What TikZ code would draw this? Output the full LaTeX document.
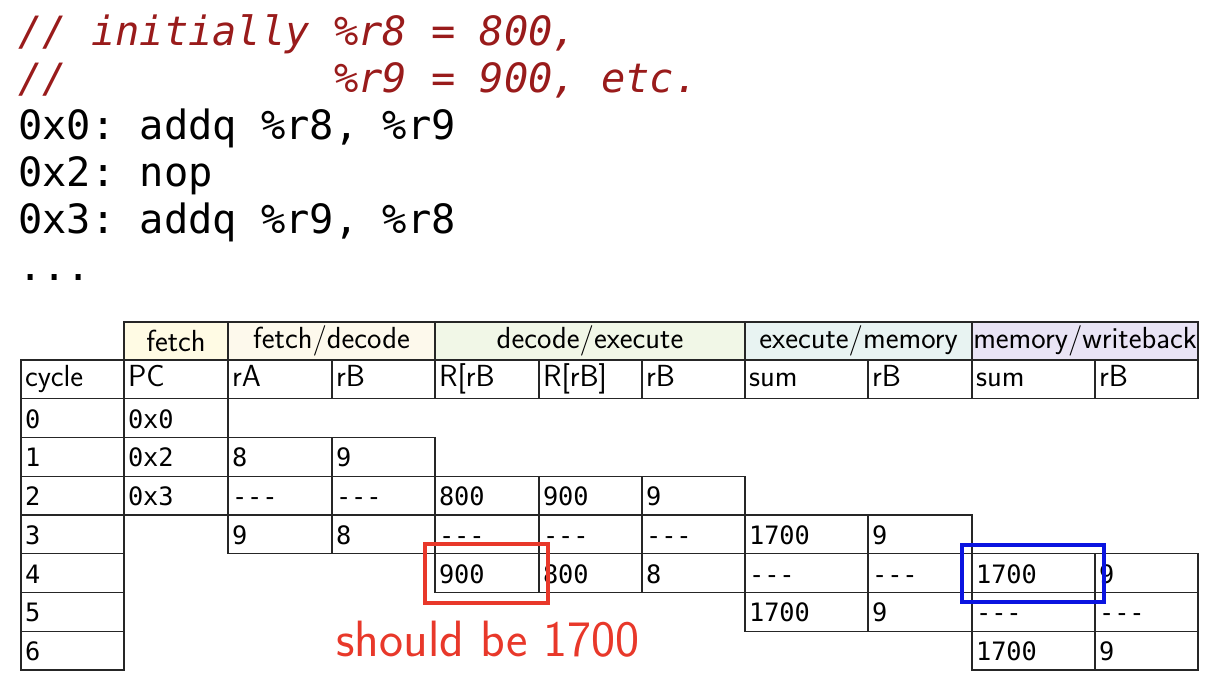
\documentclass[tikz,border=0pt]{standalone}
\usepackage{fontspec}
\setmonofont{DejaVu Sans Mono}
\usepackage{tikz}
\usetikzlibrary{positioning}
\definecolor{cmtred}{HTML}{991B1B}
\definecolor{hlred}{HTML}{E8382A}
\definecolor{hlblue}{HTML}{0A14E0}
\definecolor{fetchbg}{HTML}{FFFBE4}
\definecolor{fdbg}{HTML}{FDF9EC}
\definecolor{debg}{HTML}{F1F7E7}
\definecolor{embg}{HTML}{E8F3F2}
\definecolor{mwbg}{HTML}{E9E4F5}
\tikzstyle{codeline} = [anchor=base west, inner sep=0pt, font=\ttfamily\fontsize{28.7}{34}\selectfont]
\tikzstyle{comment} = [codeline, text=cmtred, font=\ttfamily\itshape\fontsize{28.7}{34}\selectfont]
\tikzstyle{stage} = [draw=black!85, line width=1pt, anchor=north west, inner sep=0pt, outer sep=0pt, minimum height=0.95cm, font=\sffamily\fontsize{21.7}{26}\selectfont]
\tikzstyle{cell} = [draw=black!85, line width=1pt, anchor=north west, inner xsep=0.1cm, inner ysep=0pt, outer sep=0pt, minimum height=0.96875cm, align=left]
\tikzstyle{hdcell} = [cell, text height=0.45cm, text depth=0.07cm, font=\sffamily\fontsize{21.7}{26}\selectfont]
\tikzstyle{valcell} = [cell, text height=0.5cm, text depth=0cm, font=\ttfamily\fontsize{18}{21}\selectfont]
\tikzstyle{hlbox} = [line width=2.2pt]
% column edges, in pixels
\def\colx{{21,124,228,332,435,539,642,745,868,972,1095,1198}}
\newcommand{\tabcell}[4]{%
  \pgfmathtruncatemacro{\nextc}{#2+1}%
  \pgfmathsetmacro{\cellx}{\colx[#2]}%
  \pgfmathsetmacro{\cellxx}{\colx[\nextc]}%
  \pgfmathsetmacro{\cellw}{(\cellxx-\cellx)*0.025-0.2}%
  \pgfmathsetmacro{\celly}{360+38.75*#1}%
  \node (cell-#1-#2) [#4, text width=\cellw cm] at (\cellx,\celly) {#3};}

\begin{document}
\begin{tikzpicture}[x=0.025cm, y=-0.025cm]
\useasboundingbox (0,0) rectangle (1220,686);
% code
\node (code1) [comment] at (18,45) {// initially \%r8 = 800,};
\node (code2) [comment] at (18,92) {// \phantom{initially} \%r9 = 900, etc.};
\node (code3) [codeline] at (18,139) {0x0: addq \%r8, \%r9};
\node (code4) [codeline] at (18,186) {0x2: nop};
\node (code5) [codeline] at (18,233) {0x3: addq \%r9, \%r8};
\node (code6) [codeline] at (18,280) {...};
% pipeline stages
\node (sfetch) [stage, fill=fetchbg, minimum width=2.6cm] at (124,322) {fetch};
\node (sfd) [stage, fill=fdbg, minimum width=5.175cm] at (228,322) {fetch/decode};
\node (sde) [stage, fill=debg, minimum width=7.75cm] at (435,322) {decode/execute};
\node (sem) [stage, fill=embg, minimum width=5.675cm] at (745,322) {execute/memory};
\node (smw) [stage, fill=mwbg, minimum width=5.65cm] at (972,322) {memory/writeback};
% table
\foreach \c/\t in {0/cycle, 1/PC, 2/rA, 3/rB, 4/{R[rB}, 5/{R[rB]}, 6/rB, 7/sum, 8/rB, 9/sum, 10/rB}
  \tabcell{0}{\c}{\t}{hdcell};
\foreach \c/\t in {0/0, 1/0x0}
  \tabcell{1}{\c}{\t}{valcell};
\foreach \c/\t in {0/1, 1/0x2, 2/8, 3/9}
  \tabcell{2}{\c}{\t}{valcell};
\foreach \c/\t in {0/2, 1/0x3, 2/---, 3/---, 4/800, 5/900, 6/9}
  \tabcell{3}{\c}{\t}{valcell};
\foreach \c/\t in {0/3, 2/9, 3/8, 4/---, 5/---, 6/---, 7/1700, 8/9}
  \tabcell{4}{\c}{\t}{valcell};
\foreach \c/\t in {0/4, 4/900, 5/800, 6/8, 7/---, 8/---, 9/1700, 10/9}
  \tabcell{5}{\c}{\t}{valcell};
\foreach \c/\t in {0/5, 7/1700, 8/9, 9/---, 10/---}
  \tabcell{6}{\c}{\t}{valcell};
\foreach \c/\t in {0/6, 9/1700, 10/9}
  \tabcell{7}{\c}{\t}{valcell};
% highlights
\draw [hlbox, hlred] (425,544) rectangle (548,603);
\draw [hlbox, hlblue] (962,545) rectangle (1104,602);
\node (note) [anchor=base west, inner sep=0pt, text=hlred, font=\sffamily\fontsize{36.3}{42}\selectfont] at (336,656) {should be 1700};
\end{tikzpicture}
\end{document}
